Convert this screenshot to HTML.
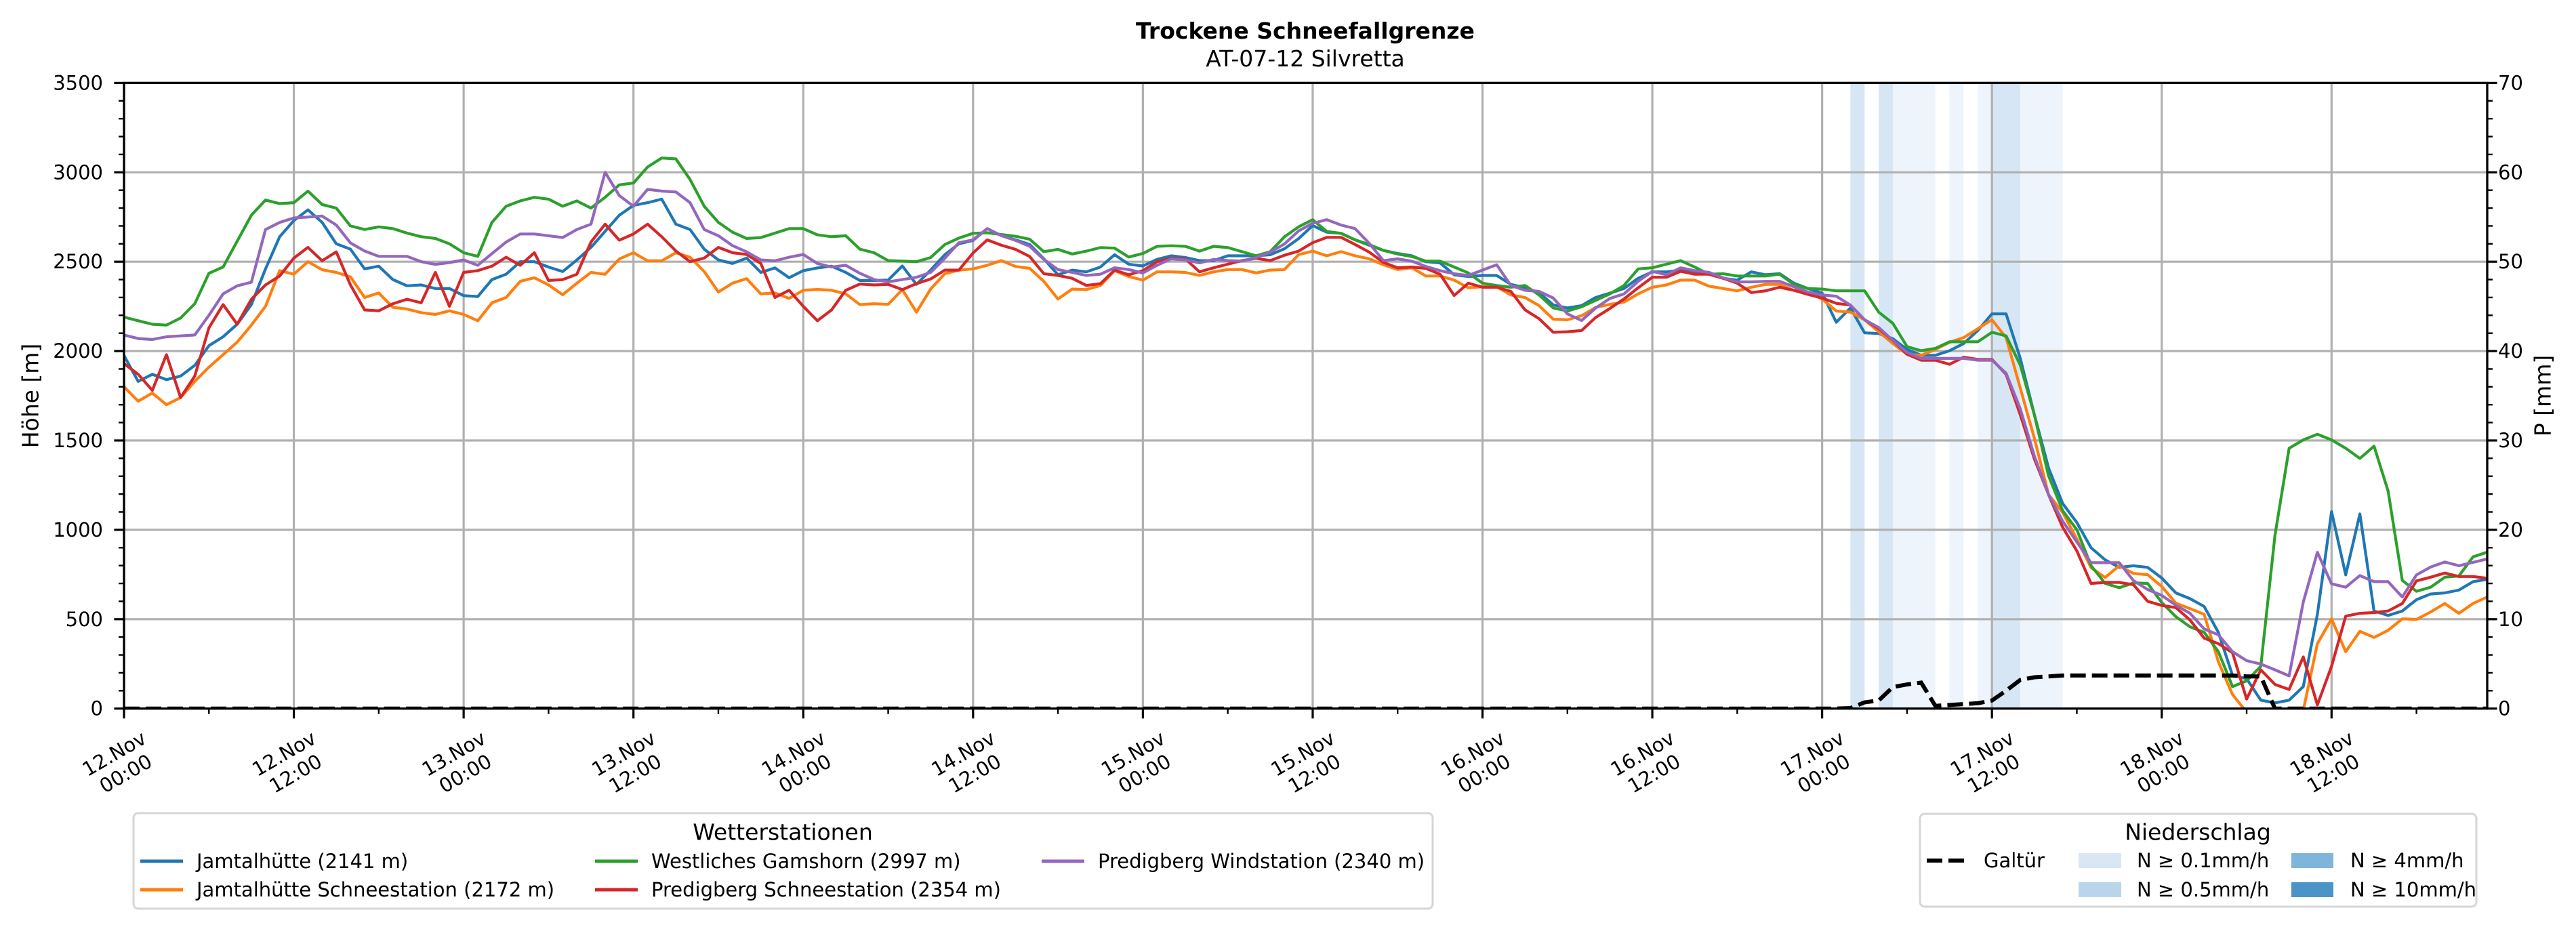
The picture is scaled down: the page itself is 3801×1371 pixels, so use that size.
<!DOCTYPE html>
<html><head><meta charset="utf-8"><title>Trockene Schneefallgrenze</title>
<style>
html,body{margin:0;padding:0;background:#fff;}
svg{display:block;font-family:"DejaVu Sans","Liberation Sans",sans-serif;}
</style></head>
<body>
<svg id="chart" width="3801" height="1371" viewBox="0 0 3801 1371" xmlns="http://www.w3.org/2000/svg">
<defs><clipPath id="plotclip"><rect x="183" y="122.4" width="3487" height="923.3"/></clipPath></defs>
<rect x="0" y="0" width="3801" height="1371" fill="#fff"/>
<text x="1926" y="57" text-anchor="middle" font-size="33" font-weight="bold">Trockene Schneefallgrenze</text>
<text x="1926" y="98" text-anchor="middle" font-size="33">AT-07-12 Silvretta</text>
<g id="spans" clip-path="url(#plotclip)"></g>
<g id="grid"></g>
<g id="series" clip-path="url(#plotclip)"></g>
<g id="axes"></g>
<text x="0" y="0" transform="translate(45,584) rotate(-90)" text-anchor="middle" dominant-baseline="central" font-size="33">Höhe [m]</text>
<text x="0" y="0" transform="translate(3752,584) rotate(-90)" text-anchor="middle" dominant-baseline="central" font-size="33">P [mm]</text>

<g>
<rect x="197" y="1200" width="1917" height="141" rx="7" fill="#fff" stroke="#d6d6d6" stroke-width="3"/>
<text x="1155" y="1228" text-anchor="middle" dominant-baseline="central" font-size="33">Wetterstationen</text>
<g><line x1="207" y1="1271" x2="270" y2="1271" stroke="#1f77b4" stroke-width="5"/><text x="290" y="1271" dominant-baseline="central" font-size="29">Jamtalhütte (2141 m)</text></g>
<g><line x1="207" y1="1313" x2="270" y2="1313" stroke="#ff7f0e" stroke-width="5"/><text x="290" y="1313" dominant-baseline="central" font-size="29">Jamtalhütte Schneestation (2172 m)</text></g>
<g><line x1="878" y1="1271" x2="941" y2="1271" stroke="#2ca02c" stroke-width="5"/><text x="961" y="1271" dominant-baseline="central" font-size="29">Westliches Gamshorn (2997 m)</text></g>
<g><line x1="878" y1="1313" x2="941" y2="1313" stroke="#d62728" stroke-width="5"/><text x="961" y="1313" dominant-baseline="central" font-size="29">Predigberg Schneestation (2354 m)</text></g>
<g><line x1="1537" y1="1271" x2="1600" y2="1271" stroke="#9467bd" stroke-width="5"/><text x="1620" y="1271" dominant-baseline="central" font-size="29">Predigberg Windstation (2340 m)</text></g>
</g>

<g>
<rect x="2833" y="1201" width="821" height="137" rx="7" fill="#fff" stroke="#d6d6d6" stroke-width="3"/>
<text x="3243" y="1228" text-anchor="middle" dominant-baseline="central" font-size="33">Niederschlag</text>
<g><line x1="2843" y1="1270" x2="2900" y2="1270" stroke="#000" stroke-width="6" stroke-dasharray="23,9"/><text x="2927" y="1270" dominant-baseline="central" font-size="29">Galtür</text></g>
<g><rect x="3067" y="1259" width="63" height="22" fill="#d9e7f5"/><text x="3153" y="1270" dominant-baseline="central" font-size="29">N ≥ 0.1mm/h</text></g>
<g><rect x="3067" y="1302" width="63" height="22" fill="#b9d5ea"/><text x="3153" y="1313" dominant-baseline="central" font-size="29">N ≥ 0.5mm/h</text></g>
<g><rect x="3381" y="1259" width="62" height="22" fill="#7fb5da"/><text x="3468" y="1270" dominant-baseline="central" font-size="29">N ≥ 4mm/h</text></g>
<g><rect x="3381" y="1302" width="62" height="22" fill="#4a94c8"/><text x="3468" y="1313" dominant-baseline="central" font-size="29">N ≥ 10mm/h</text></g>
</g>
</svg>
<script>
const hourCount = 168;
const jamtal = [1975,1830,1870,1840,1860,1920,2030,2080,2150,2260,2460,2640,2730,2790,2720,2600,2570,2460,2475,2400,2365,2370,2350,2350,2310,2305,2400,2430,2500,2500,2470,2445,2510,2580,2670,2760,2815,2830,2850,2710,2680,2570,2510,2490,2520,2440,2465,2410,2450,2465,2475,2440,2395,2395,
2397,2476,2373,2453,2539,2600,2619,2685,2646,2622,2596,2516,2427,2453,2443,2470,2539,2486,2476,2513,2533,2523,2506,2506,2533,2533,2533,2539,2572,2629,2702,2665,2659,2622,2592,2563,2546,2533,2500,2493,2427,2417,2423,2423,2373,2354,2327,2258,2241,2254,2300,2324,2350,2407,2443,2443,2453,2440,2440,2407,2397,2443,2427,2433,
2380,2350,2324,2161,2241,2102,2098,2069,2009,1976,1976,2002,2042,2115,2208,2208,1959,1644,1346,1147,1041,900,832,790,799,790,730,647,615,571,426,186,167,47,32,47,123,527,1102,748,1089,546,521,546,609,641,647,663,710,723];
const jamtalSchnee = [1800,1720,1765,1700,1740,1830,1910,1980,2050,2145,2250,2450,2430,2500,2455,2440,2415,2300,2325,2245,2235,2215,2205,2225,2205,2170,2270,2300,2390,2410,2370,2315,2380,2440,2430,2515,2550,2505,2505,2550,2525,2445,2330,2380,2405,2320,2325,2295,2340,2345,2340,2320,2260,2265,
2261,2344,2218,2347,2433,2453,2460,2480,2506,2473,2463,2390,2291,2347,2344,2367,2450,2417,2397,2443,2443,2440,2423,2443,2456,2456,2437,2453,2456,2539,2559,2533,2556,2533,2516,2483,2456,2466,2420,2420,2397,2354,2360,2360,2314,2300,2254,2178,2175,2198,2244,2261,2274,2320,2357,2370,2397,2397,2363,2350,2337,2357,2373,2373,
2340,2330,2291,2224,2218,2175,2108,2042,1982,1976,2009,2049,2075,2125,2175,2075,1793,1512,1197,1097,948,789,733,799,756,749,683,590,559,527,262,78,-20,-150,-250,-150,-10,363,502,318,432,398,438,502,499,540,588,533,588,624];
const gamshorn = [2190,2170,2150,2145,2185,2265,2435,2470,2615,2760,2845,2825,2830,2895,2820,2800,2700,2680,2695,2685,2660,2640,2630,2600,2550,2530,2720,2810,2840,2860,2850,2810,2840,2800,2860,2930,2940,3030,3080,3075,2960,2810,2720,2665,2630,2635,2660,2685,2685,2650,2640,2645,2570,2550,
2506,2503,2500,2523,2596,2632,2659,2662,2652,2642,2626,2556,2569,2543,2559,2579,2576,2526,2546,2586,2589,2586,2559,2586,2579,2556,2533,2556,2639,2695,2735,2669,2659,2622,2596,2563,2543,2529,2503,2503,2470,2437,2380,2367,2357,2367,2314,2241,2224,2248,2284,2320,2367,2460,2466,2486,2506,2470,2430,2433,2420,2420,2420,2430,
2373,2350,2347,2337,2337,2337,2218,2155,2025,2002,2015,2052,2052,2052,2105,2085,1922,1644,1303,1107,1000,800,700,676,703,700,593,514,457,426,318,123,155,236,969,1456,1503,1535,1503,1456,1399,1468,1216,717,656,679,735,742,849,875];
const predigSchnee = [1930,1870,1780,1980,1740,1860,2130,2260,2150,2290,2370,2420,2520,2580,2505,2555,2370,2230,2225,2265,2290,2270,2440,2250,2440,2450,2475,2525,2480,2550,2395,2400,2430,2610,2710,2620,2655,2710,2640,2560,2500,2520,2580,2550,2540,2490,2300,2340,2250,2170,2230,2340,2375,2370,
2373,2344,2377,2403,2453,2453,2549,2622,2592,2569,2529,2433,2423,2407,2367,2377,2453,2427,2450,2500,2519,2516,2443,2466,2486,2506,2519,2506,2536,2559,2606,2636,2636,2596,2553,2496,2466,2470,2463,2430,2311,2380,2357,2357,2334,2231,2181,2105,2108,2115,2188,2238,2291,2354,2413,2413,2446,2430,2430,2407,2380,2327,2337,2357,
2340,2317,2297,2267,2257,2175,2125,2059,1982,1949,1949,1926,1966,1953,1953,1870,1644,1396,1197,1014,882,700,706,706,693,600,577,565,495,394,363,312,53,217,135,107,289,21,236,517,533,537,546,588,714,735,758,739,739,729];
const predigWind = [2090,2070,2065,2080,2085,2090,2200,2320,2365,2385,2680,2720,2745,2750,2755,2705,2605,2560,2530,2530,2530,2500,2485,2495,2510,2480,2545,2610,2655,2655,2645,2635,2680,2710,3000,2870,2810,2905,2895,2890,2830,2680,2645,2590,2555,2510,2505,2525,2540,2490,2470,2480,2435,2400,
2387,2400,2413,2440,2519,2606,2622,2685,2646,2619,2586,2513,2456,2440,2423,2430,2466,2456,2437,2480,2516,2510,2493,2513,2506,2503,2523,2553,2599,2672,2715,2735,2705,2685,2602,2506,2516,2503,2473,2450,2433,2423,2453,2483,2367,2340,2334,2297,2208,2171,2241,2294,2320,2390,2446,2427,2466,2450,2440,2410,2387,2387,2390,2390,
2360,2330,2314,2307,2257,2175,2132,2059,1992,1959,1959,1959,1959,1949,1949,1876,1677,1412,1197,1048,932,816,816,816,716,666,633,578,533,445,413,318,268,249,217,183,596,874,698,679,744,710,710,624,748,792,820,799,818,837];
const galtuerP = [0,0,0,0,0,0,0,0,0,0,0,0,0,0,0,0,0,0,0,0,0,0,0,0,0,0,0,0,0,0,0,0,0,0,0,0,0,0,0,0,
0,0,0,0,0,0,0,0,0,0,0,0,0,0,0,0,0,0,0,0,0,0,0,0,0,0,0,0,0,0,0,0,0,0,0,0,0,0,0,0,
0,0,0,0,0,0,0,0,0,0,0,0,0,0,0,0,0,0,0,0,0,0,0,0,0,0,0,0,0,0,0,0,0,0,0,0,0,0,0,0,
0,0,0.05,0.7,0.9,2.4,2.7,2.9,0.3,0.4,0.5,0.6,0.9,2.0,3.2,3.5,3.6,3.7,3.7,3.7,3.7,3.7,3.7,3.7,3.7,3.7,3.7,3.7,3.7,3.7,3.6,3.6,0,0,0,0,0,0,0,0,
0,0,0,0,0,0,0,0];
const spanStart = [122,124,125,129,131,132,134];
const spanEnd = [123,125,128,130,132,134,137];
const spanLevel = ["0.5","0.5","0.1","0.1","0.1","0.5","0.1"];
const yTicks = [0,500,1000,1500,2000,2500,3000,3500];
const pTicks = [0,10,20,30,40,50,60,70];
const xTickHours = [0,12,24,36,48,60,72,84,96,108,120,132,144,156];
const xTickLine1 = ["12.Nov","12.Nov","13.Nov","13.Nov","14.Nov","14.Nov","15.Nov","15.Nov","16.Nov","16.Nov","17.Nov","17.Nov","18.Nov","18.Nov"];
const xTickLine2 = ["00:00","12:00","00:00","12:00","00:00","12:00","00:00","12:00","00:00","12:00","00:00","12:00","00:00","12:00"];

const NS = "http://www.w3.org/2000/svg";
const L = 183, R = 3670, T = 122.4, B = 1045.7;
const xMax = 167, yMax = 3500, pMax = 70;
function xS(h){ return L + h * (R - L) / xMax; }
function yS(m){ return B - m * (B - T) / yMax; }
function pS(p){ return B - p * (B - T) / pMax; }
function mk(tag, attrs, parent){
  const e = document.createElementNS(NS, tag);
  for (const k in attrs) e.setAttribute(k, attrs[k]);
  parent.appendChild(e);
  return e;
}
const spansG = document.getElementById('spans');
const gridG = document.getElementById('grid');
const seriesG = document.getElementById('series');
const axesG = document.getElementById('axes');
const spanColor = {"0.1":"#eef4fb","0.5":"#d6e6f4"};

for (let i = 0; i < spanStart.length; i++) {
  const r = mk('rect', {x: xS(spanStart[i]), y: T, width: xS(spanEnd[i]) - xS(spanStart[i]), height: B - T, fill: spanColor[spanLevel[i]]}, spansG);
  
  
}
for (const v of yTicks) {
  const g = mk('line', {x1: L, x2: R, y1: yS(v), y2: yS(v), stroke: '#b0b0b0', 'stroke-width': 3.2}, gridG);
  
  
}
for (const h of xTickHours) {
  const g = mk('line', {x1: xS(h), x2: xS(h), y1: T, y2: B, stroke: '#b0b0b0', 'stroke-width': 3.2}, gridG);
  
  
}
const seriesList = [[jamtal,'#1f77b4','series-jamtalhuette'],[jamtalSchnee,'#ff7f0e','series-jamtalhuette-schneestation'],[gamshorn,'#2ca02c','series-westliches-gamshorn'],[predigSchnee,'#d62728','series-predigberg-schneestation'],[predigWind,'#9467bd','series-predigberg-windstation']];
for (const s of seriesList) {
  const pts = s[0].map((v, i) => xS(i).toFixed(1) + ',' + yS(v).toFixed(1)).join(' ');
  const pl = mk('polyline', {points: pts, fill: 'none', stroke: s[1], 'stroke-width': 4.2, 'stroke-linejoin': 'round'}, seriesG);
  
  
}
const gpts = galtuerP.map((v, i) => xS(i).toFixed(1) + ',' + pS(v).toFixed(1)).join(' ');
const gl = mk('polyline', {points: gpts, fill: 'none', stroke: '#000', 'stroke-width': 6, 'stroke-dasharray': '23,9'}, seriesG);



for (let m = 0; m <= yMax; m += 100) {
  const major = (m % 500 === 0);
  const t = mk('line', {x1: L, x2: L - (major ? 14.6 : 8), y1: yS(m), y2: yS(m), stroke: '#000', 'stroke-width': major ? 3.2 : 2.4}, axesG);
  
  
}
for (let p = 0; p <= pMax; p += 2) {
  const major = (p % 10 === 0);
  const t = mk('line', {x1: R, x2: R + (major ? 14.6 : 8), y1: pS(p), y2: pS(p), stroke: '#000', 'stroke-width': major ? 3.2 : 2.4}, axesG);
  
  
}
for (let h = 0; h <= xMax; h += 6) {
  const major = (h % 12 === 0);
  const t = mk('line', {x1: xS(h), x2: xS(h), y1: B, y2: B + (major ? 14.6 : 8), stroke: '#000', 'stroke-width': major ? 3.2 : 2.4}, axesG);
  
  
}
for (const v of yTicks) {
  const tx = mk('text', {x: 152, y: yS(v), 'text-anchor': 'end', 'dominant-baseline': 'central', 'font-size': 29}, axesG);
  tx.textContent = String(v);
  
  
}
for (const v of pTicks) {
  const tx = mk('text', {x: 3686, y: pS(v), 'text-anchor': 'start', 'dominant-baseline': 'central', 'font-size': 29}, axesG);
  tx.textContent = String(v);
  
  
}
for (let i = 0; i < xTickHours.length; i++) {
  const g = mk('g', {transform: 'translate(' + (xS(xTickHours[i]) - 6).toFixed(1) + ',1127) rotate(-30)'}, axesG);
  
  
  const a = mk('text', {x: 0, y: -17, 'text-anchor': 'middle', 'dominant-baseline': 'central', 'font-size': 29}, g);
  a.textContent = xTickLine1[i];
  const b = mk('text', {x: 0, y: 17, 'text-anchor': 'middle', 'dominant-baseline': 'central', 'font-size': 29}, g);
  b.textContent = xTickLine2[i];
}
const frame = mk('rect', {x: L, y: T, width: R - L, height: B - T, fill: 'none', stroke: '#000', 'stroke-width': 3.3}, axesG);


</script>
</body></html>
